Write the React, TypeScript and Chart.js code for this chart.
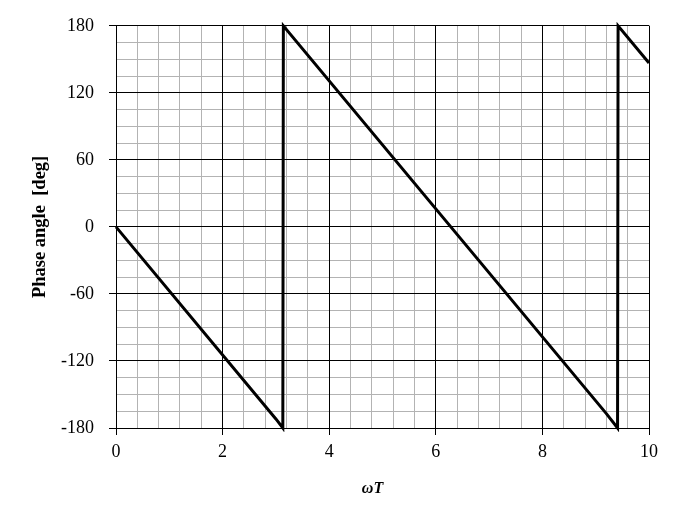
import React, { useEffect, useRef } from "react";
import { Chart, registerables } from "chart.js";

Chart.register(...registerables);

// Data (ωT vs. phase angle in degrees)
const omegaT = [0, 3.0, 3.13, 3.14, 9.2, 9.41, 9.42, 10];
const phaseDeg = [0, -171.9, -180, 180, -167.1, -180, 180, 146.7];

const xMajorTicks = [0, 2, 4, 6, 8, 10];
const yMajorTicks = [-180, -120, -60, 0, 60, 120, 180];

const xTitle = "ωT";
const yTitle = "Phase angle  [deg]";

const isMajor = (v: number, step: number) => Math.abs(v / step - Math.round(v / step)) < 1e-6;

const align = (p: number) => Math.round(p - 0.5) + 0.5;

const majorGridPlugin = {
  id: "majorGrid",
  beforeDatasetsDraw(chart: any) {
    const { ctx, chartArea, scales } = chart;
    ctx.save();
    ctx.strokeStyle = "#000";
    ctx.lineWidth = 1;
    ctx.beginPath();
    xMajorTicks.forEach((v) => {
      const px = align(scales.x.getPixelForValue(v));
      ctx.moveTo(px, chartArea.top);
      ctx.lineTo(px, chartArea.bottom);
    });
    yMajorTicks.forEach((v) => {
      const py = align(scales.y.getPixelForValue(v));
      ctx.moveTo(chartArea.left, py);
      ctx.lineTo(chartArea.right, py);
    });
    ctx.stroke();
    ctx.restore();
  },
};

export default function App() {
  const ref = useRef<HTMLCanvasElement | null>(null);

  useEffect(() => {
    if (!ref.current) return;
    const serif = "'Liberation Serif', 'Times New Roman', serif";
    const tickFont = { family: serif, size: 18 };
    const chart = new Chart(ref.current, {
      type: "line",
      data: {
        datasets: [
          {
            data: omegaT.map((x, i) => ({ x, y: phaseDeg[i] })),
            borderColor: "#000",
            borderWidth: 3,
            pointRadius: 0,
            fill: false,
            tension: 0,
            clip: 4,
          },
        ],
      },
      options: {
        animation: false,
        responsive: false,
        maintainAspectRatio: false,
        layout: { padding: { left: 0, top: 24, right: 34, bottom: 0 } },
        plugins: { legend: { display: false }, tooltip: { enabled: false } },
        scales: {
          x: {
            type: "linear",
            min: 0,
            max: 10,
            afterFit: (s: any) => {
              s.height = 91;
            },
            ticks: {
              stepSize: 0.4,
              autoSkip: false,
              maxRotation: 0,
              color: "#000",
              font: tickFont,
              padding: 6,
              callback: (v: any) => (isMajor(Number(v), 2) ? String(Math.round(Number(v))) : ""),
            },
            grid: {
              color: (c: any) => (isMajor(c.tick?.value ?? 0, 2) ? "#000" : "#b3b3b3"),
              tickColor: (c: any) => (isMajor(c.tick?.value ?? 0, 2) ? "#000" : "rgba(0,0,0,0)"),
              tickLength: 7,
              lineWidth: 1,
            },
            border: { display: true, color: "#000", width: 1 },
            title: {
              display: true,
              text: xTitle + "     ",
              color: "#000",
              font: { family: serif, size: 16, weight: "bold", style: "italic" },
              padding: { top: 0, bottom: 21 },
            },
          },
          y: {
            type: "linear",
            min: -180,
            max: 180,
            afterFit: (s: any) => {
              s.width = 116;
            },
            ticks: {
              stepSize: 15,
              autoSkip: false,
              color: "#000",
              font: tickFont,
              padding: 15,
              callback: (v: any) => (isMajor(Number(v), 60) ? String(Math.round(Number(v))) : ""),
            },
            grid: {
              color: (c: any) => (isMajor(c.tick?.value ?? 0, 60) ? "#000" : "#b3b3b3"),
              tickColor: (c: any) => (isMajor(c.tick?.value ?? 0, 60) ? "#000" : "rgba(0,0,0,0)"),
              tickLength: 7,
              lineWidth: 1,
            },
            border: { display: true, color: "#000", width: 1 },
            title: {
              display: true,
              text: yTitle,
              color: "#000",
              font: { family: serif, size: 18.5, weight: "bold" },
              padding: { top: 29, bottom: 0 },
            },
          },
        },
      },
      plugins: [majorGridPlugin],
    } as any);
    return () => chart.destroy();
  }, []);

  return (
    <div style={{ position: "fixed", left: 0, top: 0, width: 683, height: 519, background: "#fff" }}>
      <canvas ref={ref} width={683} height={519} style={{ width: 683, height: 519, display: "block" }} />
    </div>
  );
}
